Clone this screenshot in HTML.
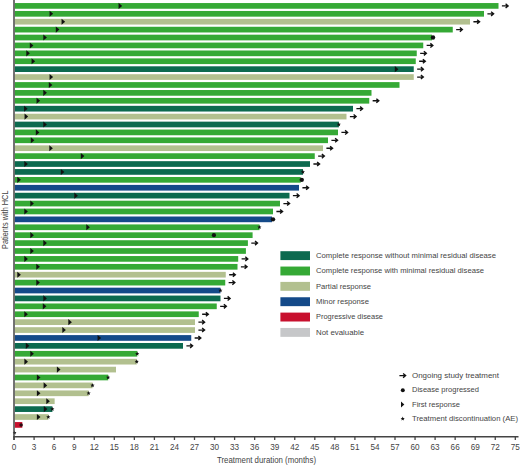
<!DOCTYPE html>
<html><head><meta charset="utf-8"><style>
html,body{margin:0;padding:0;background:#fff;}
body{width:520px;height:466px;overflow:hidden;position:relative;}
svg{position:absolute;left:0;top:0;}
text{font-family:"Liberation Sans",sans-serif;fill:#444;}
.tk{font-size:8.2px;}
.lg{font-size:8px;}
</style></head><body>
<svg width="520" height="466" viewBox="0 0 520 466">
<rect x="14.8" y="3.05" width="483.70" height="5.7" fill="#35a935"/>
<polygon points="118.55,2.85 122.15,5.90 118.55,8.95" fill="#111"/>
<path d="M501.90,5.90H507.90M505.60,3.85L508.10,5.90L505.60,7.95" fill="none" stroke="#111" stroke-width="1.35" stroke-linejoin="miter"/>
<rect x="14.8" y="10.96" width="469.20" height="5.7" fill="#35a935"/>
<polygon points="49.55,10.76 53.15,13.81 49.55,16.86" fill="#111"/>
<path d="M487.40,13.81H493.40M491.10,11.76L493.60,13.81L491.10,15.86" fill="none" stroke="#111" stroke-width="1.35" stroke-linejoin="miter"/>
<rect x="14.8" y="18.86" width="455.20" height="5.7" fill="#b2c08f"/>
<polygon points="61.55,18.66 65.15,21.71 61.55,24.76" fill="#111"/>
<path d="M473.40,21.71H479.40M477.10,19.66L479.60,21.71L477.10,23.76" fill="none" stroke="#111" stroke-width="1.35" stroke-linejoin="miter"/>
<rect x="14.8" y="26.77" width="437.95" height="5.7" fill="#35a935"/>
<polygon points="55.80,26.57 59.40,29.62 55.80,32.67" fill="#111"/>
<path d="M456.15,29.62H462.15M459.85,27.57L462.35,29.62L459.85,31.67" fill="none" stroke="#111" stroke-width="1.35" stroke-linejoin="miter"/>
<rect x="14.8" y="34.67" width="417.20" height="5.7" fill="#35a935"/>
<polygon points="43.30,34.47 46.90,37.52 43.30,40.57" fill="#111"/>
<circle cx="433.00" cy="37.52" r="2.2" fill="#111"/>
<rect x="14.8" y="42.58" width="408.45" height="5.7" fill="#35a935"/>
<polygon points="29.80,42.38 33.40,45.43 29.80,48.48" fill="#111"/>
<path d="M426.65,45.43H432.65M430.35,43.38L432.85,45.43L430.35,47.48" fill="none" stroke="#111" stroke-width="1.35" stroke-linejoin="miter"/>
<rect x="14.8" y="50.49" width="401.95" height="5.7" fill="#35a935"/>
<polygon points="26.30,50.29 29.90,53.34 26.30,56.39" fill="#111"/>
<path d="M420.15,53.34H426.15M423.85,51.29L426.35,53.34L423.85,55.39" fill="none" stroke="#111" stroke-width="1.35" stroke-linejoin="miter"/>
<rect x="14.8" y="58.39" width="400.95" height="5.7" fill="#35a935"/>
<polygon points="31.55,58.19 35.15,61.24 31.55,64.29" fill="#111"/>
<path d="M419.15,61.24H425.15M422.85,59.19L425.35,61.24L422.85,63.29" fill="none" stroke="#111" stroke-width="1.35" stroke-linejoin="miter"/>
<rect x="14.8" y="66.30" width="398.95" height="5.7" fill="#0c6a4f"/>
<polygon points="394.80,66.10 398.40,69.15 394.80,72.20" fill="#111"/>
<path d="M417.15,69.15H423.15M420.85,67.10L423.35,69.15L420.85,71.20" fill="none" stroke="#111" stroke-width="1.35" stroke-linejoin="miter"/>
<rect x="14.8" y="74.20" width="398.95" height="5.7" fill="#b2c08f"/>
<polygon points="49.55,74.00 53.15,77.05 49.55,80.10" fill="#111"/>
<path d="M417.15,77.05H423.15M420.85,75.00L423.35,77.05L420.85,79.10" fill="none" stroke="#111" stroke-width="1.35" stroke-linejoin="miter"/>
<rect x="14.8" y="82.11" width="384.70" height="5.7" fill="#35a935"/>
<polygon points="48.80,81.91 52.40,84.96 48.80,88.01" fill="#111"/>
<rect x="14.8" y="90.02" width="356.70" height="5.7" fill="#35a935"/>
<polygon points="43.30,89.82 46.90,92.87 43.30,95.92" fill="#111"/>
<rect x="14.8" y="97.92" width="354.45" height="5.7" fill="#35a935"/>
<polygon points="36.55,97.72 40.15,100.77 36.55,103.82" fill="#111"/>
<path d="M372.65,100.77H378.65M376.35,98.72L378.85,100.77L376.35,102.82" fill="none" stroke="#111" stroke-width="1.35" stroke-linejoin="miter"/>
<rect x="14.8" y="105.83" width="338.20" height="5.7" fill="#0c6a4f"/>
<polygon points="24.05,105.63 27.65,108.68 24.05,111.73" fill="#111"/>
<path d="M356.40,108.68H362.40M360.10,106.63L362.60,108.68L360.10,110.73" fill="none" stroke="#111" stroke-width="1.35" stroke-linejoin="miter"/>
<rect x="14.8" y="113.73" width="331.70" height="5.7" fill="#b2c08f"/>
<polygon points="24.55,113.53 28.15,116.58 24.55,119.63" fill="#111"/>
<path d="M349.90,116.58H355.90M353.60,114.53L356.10,116.58L353.60,118.63" fill="none" stroke="#111" stroke-width="1.35" stroke-linejoin="miter"/>
<rect x="14.8" y="121.64" width="324.10" height="5.7" fill="#0c6a4f"/>
<polygon points="43.30,121.44 46.90,124.49 43.30,127.54" fill="#111"/>
<polygon points="338.80,122.29 339.38,123.69 340.89,123.81 339.74,124.80 340.09,126.27 338.80,125.48 337.51,126.27 337.86,124.80 336.71,123.81 338.22,123.69" fill="#111"/>
<rect x="14.8" y="129.55" width="323.20" height="5.7" fill="#35a935"/>
<polygon points="35.80,129.35 39.40,132.40 35.80,135.45" fill="#111"/>
<path d="M341.40,132.40H347.40M345.10,130.35L347.60,132.40L345.10,134.45" fill="none" stroke="#111" stroke-width="1.35" stroke-linejoin="miter"/>
<rect x="14.8" y="137.45" width="313.20" height="5.7" fill="#35a935"/>
<polygon points="30.80,137.25 34.40,140.30 30.80,143.35" fill="#111"/>
<path d="M331.40,140.30H337.40M335.10,138.25L337.60,140.30L335.10,142.35" fill="none" stroke="#111" stroke-width="1.35" stroke-linejoin="miter"/>
<rect x="14.8" y="145.36" width="308.20" height="5.7" fill="#b2c08f"/>
<polygon points="49.30,145.16 52.90,148.21 49.30,151.26" fill="#111"/>
<path d="M326.40,148.21H332.40M330.10,146.16L332.60,148.21L330.10,150.26" fill="none" stroke="#111" stroke-width="1.35" stroke-linejoin="miter"/>
<rect x="14.8" y="153.26" width="299.95" height="5.7" fill="#35a935"/>
<polygon points="80.80,153.06 84.40,156.11 80.80,159.16" fill="#111"/>
<path d="M318.15,156.11H324.15M321.85,154.06L324.35,156.11L321.85,158.16" fill="none" stroke="#111" stroke-width="1.35" stroke-linejoin="miter"/>
<rect x="14.8" y="161.17" width="295.20" height="5.7" fill="#0c6a4f"/>
<polygon points="24.30,160.97 27.90,164.02 24.30,167.07" fill="#111"/>
<path d="M313.40,164.02H319.40M317.10,161.97L319.60,164.02L317.10,166.07" fill="none" stroke="#111" stroke-width="1.35" stroke-linejoin="miter"/>
<rect x="14.8" y="169.08" width="288.20" height="5.7" fill="#0c6a4f"/>
<polygon points="60.80,168.88 64.40,171.93 60.80,174.98" fill="#111"/>
<polygon points="302.90,169.73 303.48,171.13 304.99,171.25 303.84,172.23 304.19,173.71 302.90,172.92 301.61,173.71 301.96,172.23 300.81,171.25 302.32,171.13" fill="#111"/>
<rect x="14.8" y="176.98" width="285.95" height="5.7" fill="#35a935"/>
<polygon points="17.30,176.78 20.90,179.83 17.30,182.88" fill="#111"/>
<circle cx="301.75" cy="179.83" r="2.2" fill="#111"/>
<rect x="14.8" y="184.89" width="284.20" height="5.7" fill="#144a89"/>
<path d="M302.40,187.74H308.40M306.10,185.69L308.60,187.74L306.10,189.79" fill="none" stroke="#111" stroke-width="1.35" stroke-linejoin="miter"/>
<rect x="14.8" y="192.79" width="274.70" height="5.7" fill="#0c6a4f"/>
<polygon points="74.30,192.59 77.90,195.64 74.30,198.69" fill="#111"/>
<path d="M292.90,195.64H298.90M296.60,193.59L299.10,195.64L296.60,197.69" fill="none" stroke="#111" stroke-width="1.35" stroke-linejoin="miter"/>
<rect x="14.8" y="200.70" width="265.20" height="5.7" fill="#35a935"/>
<polygon points="30.30,200.50 33.90,203.55 30.30,206.60" fill="#111"/>
<path d="M283.40,203.55H289.40M287.10,201.50L289.60,203.55L287.10,205.60" fill="none" stroke="#111" stroke-width="1.35" stroke-linejoin="miter"/>
<rect x="14.8" y="208.61" width="258.20" height="5.7" fill="#35a935"/>
<polygon points="24.30,208.41 27.90,211.46 24.30,214.51" fill="#111"/>
<path d="M276.40,211.46H282.40M280.10,209.41L282.60,211.46L280.10,213.51" fill="none" stroke="#111" stroke-width="1.35" stroke-linejoin="miter"/>
<rect x="14.8" y="216.51" width="257.20" height="5.7" fill="#144a89"/>
<circle cx="273.00" cy="219.36" r="2.2" fill="#111"/>
<rect x="14.8" y="224.42" width="244.70" height="5.7" fill="#35a935"/>
<polygon points="86.30,224.22 89.90,227.27 86.30,230.32" fill="#111"/>
<polygon points="259.40,225.07 259.98,226.47 261.49,226.59 260.34,227.57 260.69,229.05 259.40,228.26 258.11,229.05 258.46,227.57 257.31,226.59 258.82,226.47" fill="#111"/>
<rect x="14.8" y="232.32" width="237.80" height="5.7" fill="#35a935"/>
<polygon points="30.30,232.12 33.90,235.17 30.30,238.22" fill="#111"/>
<rect x="14.8" y="240.23" width="233.10" height="5.7" fill="#35a935"/>
<polygon points="43.30,240.03 46.90,243.08 43.30,246.13" fill="#111"/>
<path d="M251.30,243.08H257.30M255.00,241.03L257.50,243.08L255.00,245.13" fill="none" stroke="#111" stroke-width="1.35" stroke-linejoin="miter"/>
<rect x="14.8" y="248.14" width="231.10" height="5.7" fill="#35a935"/>
<polygon points="30.30,247.94 33.90,250.99 30.30,254.04" fill="#111"/>
<rect x="14.8" y="256.04" width="223.40" height="5.7" fill="#35a935"/>
<polygon points="24.30,255.84 27.90,258.89 24.30,261.94" fill="#111"/>
<path d="M241.60,258.89H247.60M245.30,256.84L247.80,258.89L245.30,260.94" fill="none" stroke="#111" stroke-width="1.35" stroke-linejoin="miter"/>
<rect x="14.8" y="263.95" width="222.70" height="5.7" fill="#35a935"/>
<polygon points="36.30,263.75 39.90,266.80 36.30,269.85" fill="#111"/>
<path d="M240.90,266.80H246.90M244.60,264.75L247.10,266.80L244.60,268.85" fill="none" stroke="#111" stroke-width="1.35" stroke-linejoin="miter"/>
<rect x="14.8" y="271.85" width="210.95" height="5.7" fill="#b2c08f"/>
<polygon points="17.30,271.65 20.90,274.70 17.30,277.75" fill="#111"/>
<path d="M229.15,274.70H235.15M232.85,272.65L235.35,274.70L232.85,276.75" fill="none" stroke="#111" stroke-width="1.35" stroke-linejoin="miter"/>
<rect x="14.8" y="279.76" width="210.45" height="5.7" fill="#35a935"/>
<polygon points="36.30,279.56 39.90,282.61 36.30,285.66" fill="#111"/>
<path d="M228.65,282.61H234.65M232.35,280.56L234.85,282.61L232.35,284.66" fill="none" stroke="#111" stroke-width="1.35" stroke-linejoin="miter"/>
<rect x="14.8" y="287.67" width="205.70" height="5.7" fill="#144a89"/>
<polygon points="220.40,288.32 220.98,289.72 222.49,289.84 221.34,290.82 221.69,292.30 220.40,291.51 219.11,292.30 219.46,290.82 218.31,289.84 219.82,289.72" fill="#111"/>
<rect x="14.8" y="295.57" width="205.70" height="5.7" fill="#0c6a4f"/>
<polygon points="43.30,295.37 46.90,298.42 43.30,301.47" fill="#111"/>
<path d="M223.90,298.42H229.90M227.60,296.37L230.10,298.42L227.60,300.47" fill="none" stroke="#111" stroke-width="1.35" stroke-linejoin="miter"/>
<rect x="14.8" y="303.48" width="201.95" height="5.7" fill="#35a935"/>
<polygon points="42.80,303.28 46.40,306.33 42.80,309.38" fill="#111"/>
<path d="M220.15,306.33H226.15M223.85,304.28L226.35,306.33L223.85,308.38" fill="none" stroke="#111" stroke-width="1.35" stroke-linejoin="miter"/>
<rect x="14.8" y="311.38" width="183.95" height="5.7" fill="#35a935"/>
<polygon points="24.30,311.18 27.90,314.23 24.30,317.28" fill="#111"/>
<path d="M202.15,314.23H208.15M205.85,312.18L208.35,314.23L205.85,316.28" fill="none" stroke="#111" stroke-width="1.35" stroke-linejoin="miter"/>
<rect x="14.8" y="319.29" width="180.20" height="5.7" fill="#b2c08f"/>
<polygon points="68.30,319.09 71.90,322.14 68.30,325.19" fill="#111"/>
<path d="M198.40,322.14H204.40M202.10,320.09L204.60,322.14L202.10,324.19" fill="none" stroke="#111" stroke-width="1.35" stroke-linejoin="miter"/>
<rect x="14.8" y="327.20" width="180.20" height="5.7" fill="#b2c08f"/>
<polygon points="62.30,327.00 65.90,330.05 62.30,333.10" fill="#111"/>
<path d="M198.40,330.05H204.40M202.10,328.00L204.60,330.05L202.10,332.10" fill="none" stroke="#111" stroke-width="1.35" stroke-linejoin="miter"/>
<rect x="14.8" y="335.10" width="176.45" height="5.7" fill="#144a89"/>
<polygon points="97.55,334.90 101.15,337.95 97.55,341.00" fill="#111"/>
<path d="M194.65,337.95H200.65M198.35,335.90L200.85,337.95L198.35,340.00" fill="none" stroke="#111" stroke-width="1.35" stroke-linejoin="miter"/>
<rect x="14.8" y="343.01" width="168.20" height="5.7" fill="#0c6a4f"/>
<polygon points="25.80,342.81 29.40,345.86 25.80,348.91" fill="#111"/>
<path d="M186.40,345.86H192.40M190.10,343.81L192.60,345.86L190.10,347.91" fill="none" stroke="#111" stroke-width="1.35" stroke-linejoin="miter"/>
<rect x="14.8" y="350.91" width="122.50" height="5.7" fill="#35a935"/>
<polygon points="30.30,350.71 33.90,353.76 30.30,356.81" fill="#111"/>
<polygon points="137.20,351.56 137.78,352.96 139.29,353.08 138.14,354.07 138.49,355.54 137.20,354.75 135.91,355.54 136.26,354.07 135.11,353.08 136.62,352.96" fill="#111"/>
<rect x="14.8" y="358.82" width="122.00" height="5.7" fill="#b2c08f"/>
<polygon points="24.40,358.62 28.00,361.67 24.40,364.72" fill="#111"/>
<polygon points="136.70,359.47 137.28,360.87 138.79,360.99 137.64,361.98 137.99,363.45 136.70,362.66 135.41,363.45 135.76,361.98 134.61,360.99 136.12,360.87" fill="#111"/>
<rect x="14.8" y="366.73" width="101.20" height="5.7" fill="#b2c08f"/>
<polygon points="56.90,366.53 60.50,369.58 56.90,372.63" fill="#111"/>
<rect x="14.8" y="374.63" width="93.40" height="5.7" fill="#35a935"/>
<polygon points="36.90,374.43 40.50,377.48 36.90,380.53" fill="#111"/>
<polygon points="108.10,375.28 108.68,376.68 110.19,376.80 109.04,377.79 109.39,379.26 108.10,378.47 106.81,379.26 107.16,377.79 106.01,376.80 107.52,376.68" fill="#111"/>
<rect x="14.8" y="382.54" width="77.80" height="5.7" fill="#b2c08f"/>
<polygon points="43.60,382.34 47.20,385.39 43.60,388.44" fill="#111"/>
<polygon points="92.50,383.19 93.08,384.59 94.59,384.71 93.44,385.69 93.79,387.17 92.50,386.38 91.21,387.17 91.56,385.69 90.41,384.71 91.92,384.59" fill="#111"/>
<rect x="14.8" y="390.44" width="73.90" height="5.7" fill="#b2c08f"/>
<polygon points="36.90,390.24 40.50,393.29 36.90,396.34" fill="#111"/>
<polygon points="88.60,391.09 89.18,392.49 90.69,392.61 89.54,393.60 89.89,395.07 88.60,394.28 87.31,395.07 87.66,393.60 86.51,392.61 88.02,392.49" fill="#111"/>
<rect x="14.8" y="398.35" width="39.85" height="5.7" fill="#b2c08f"/>
<polygon points="46.30,398.15 49.90,401.20 46.30,404.25" fill="#111"/>
<rect x="14.8" y="406.26" width="37.60" height="5.7" fill="#0c6a4f"/>
<polygon points="43.80,406.06 47.40,409.11 43.80,412.16" fill="#111"/>
<polygon points="52.30,406.91 52.88,408.31 54.39,408.43 53.24,409.41 53.59,410.89 52.30,410.10 51.01,410.89 51.36,409.41 50.21,408.43 51.72,408.31" fill="#111"/>
<rect x="14.8" y="414.16" width="33.60" height="5.7" fill="#b2c08f"/>
<polygon points="36.90,413.96 40.50,417.01 36.90,420.06" fill="#111"/>
<polygon points="48.30,414.81 48.88,416.21 50.39,416.33 49.24,417.32 49.59,418.79 48.30,418.00 47.01,418.79 47.36,417.32 46.21,416.33 47.72,416.21" fill="#111"/>
<rect x="14.8" y="422.07" width="7.50" height="5.7" fill="#c8102e"/>
<circle cx="21.1" cy="424.92" r="1.75" fill="#2a0a10"/>
<circle cx="213.9" cy="235.17" r="2.1" fill="#111"/>
<polygon points="14.60,430.82 15.13,432.10 16.50,432.21 15.46,433.10 15.78,434.44 14.60,433.72 13.42,434.44 13.74,433.10 12.70,432.21 14.07,432.10" fill="#111"/>
<line x1="14" y1="0" x2="14" y2="440" stroke="#444" stroke-width="1.5"/>
<line x1="13.25" y1="436.8" x2="518.5" y2="436.8" stroke="#444" stroke-width="1.5"/>
<line x1="14.05" y1="436.8" x2="14.05" y2="440" stroke="#444" stroke-width="1.3"/>
<line x1="34.10" y1="436.8" x2="34.10" y2="440" stroke="#444" stroke-width="1.3"/>
<line x1="54.15" y1="436.8" x2="54.15" y2="440" stroke="#444" stroke-width="1.3"/>
<line x1="74.20" y1="436.8" x2="74.20" y2="440" stroke="#444" stroke-width="1.3"/>
<line x1="94.25" y1="436.8" x2="94.25" y2="440" stroke="#444" stroke-width="1.3"/>
<line x1="114.30" y1="436.8" x2="114.30" y2="440" stroke="#444" stroke-width="1.3"/>
<line x1="134.35" y1="436.8" x2="134.35" y2="440" stroke="#444" stroke-width="1.3"/>
<line x1="154.40" y1="436.8" x2="154.40" y2="440" stroke="#444" stroke-width="1.3"/>
<line x1="174.45" y1="436.8" x2="174.45" y2="440" stroke="#444" stroke-width="1.3"/>
<line x1="194.50" y1="436.8" x2="194.50" y2="440" stroke="#444" stroke-width="1.3"/>
<line x1="214.55" y1="436.8" x2="214.55" y2="440" stroke="#444" stroke-width="1.3"/>
<line x1="234.60" y1="436.8" x2="234.60" y2="440" stroke="#444" stroke-width="1.3"/>
<line x1="254.65" y1="436.8" x2="254.65" y2="440" stroke="#444" stroke-width="1.3"/>
<line x1="274.70" y1="436.8" x2="274.70" y2="440" stroke="#444" stroke-width="1.3"/>
<line x1="294.75" y1="436.8" x2="294.75" y2="440" stroke="#444" stroke-width="1.3"/>
<line x1="314.80" y1="436.8" x2="314.80" y2="440" stroke="#444" stroke-width="1.3"/>
<line x1="334.85" y1="436.8" x2="334.85" y2="440" stroke="#444" stroke-width="1.3"/>
<line x1="354.90" y1="436.8" x2="354.90" y2="440" stroke="#444" stroke-width="1.3"/>
<line x1="374.95" y1="436.8" x2="374.95" y2="440" stroke="#444" stroke-width="1.3"/>
<line x1="395.00" y1="436.8" x2="395.00" y2="440" stroke="#444" stroke-width="1.3"/>
<line x1="415.05" y1="436.8" x2="415.05" y2="440" stroke="#444" stroke-width="1.3"/>
<line x1="435.10" y1="436.8" x2="435.10" y2="440" stroke="#444" stroke-width="1.3"/>
<line x1="455.15" y1="436.8" x2="455.15" y2="440" stroke="#444" stroke-width="1.3"/>
<line x1="475.20" y1="436.8" x2="475.20" y2="440" stroke="#444" stroke-width="1.3"/>
<line x1="495.25" y1="436.8" x2="495.25" y2="440" stroke="#444" stroke-width="1.3"/>
<line x1="515.30" y1="436.8" x2="515.30" y2="440" stroke="#444" stroke-width="1.3"/>
<g class="tk"><text x="14.05" y="450.0" text-anchor="middle">0</text><text x="34.10" y="450.0" text-anchor="middle">3</text><text x="54.15" y="450.0" text-anchor="middle">6</text><text x="74.20" y="450.0" text-anchor="middle">9</text><text x="94.25" y="450.0" text-anchor="middle">12</text><text x="114.30" y="450.0" text-anchor="middle">15</text><text x="134.35" y="450.0" text-anchor="middle">18</text><text x="154.40" y="450.0" text-anchor="middle">21</text><text x="174.45" y="450.0" text-anchor="middle">24</text><text x="194.50" y="450.0" text-anchor="middle">27</text><text x="214.55" y="450.0" text-anchor="middle">30</text><text x="234.60" y="450.0" text-anchor="middle">33</text><text x="254.65" y="450.0" text-anchor="middle">36</text><text x="274.70" y="450.0" text-anchor="middle">39</text><text x="294.75" y="450.0" text-anchor="middle">42</text><text x="314.80" y="450.0" text-anchor="middle">45</text><text x="334.85" y="450.0" text-anchor="middle">48</text><text x="354.90" y="450.0" text-anchor="middle">51</text><text x="374.95" y="450.0" text-anchor="middle">54</text><text x="395.00" y="450.0" text-anchor="middle">57</text><text x="415.05" y="450.0" text-anchor="middle">60</text><text x="435.10" y="450.0" text-anchor="middle">63</text><text x="455.15" y="450.0" text-anchor="middle">66</text><text x="475.20" y="450.0" text-anchor="middle">69</text><text x="495.25" y="450.0" text-anchor="middle">72</text><text x="515.30" y="450.0" text-anchor="middle">75</text></g>
<rect x="280.4" y="251.20" width="29.6" height="8.9" fill="#0c6a4f"/><rect x="280.4" y="266.55" width="29.6" height="8.9" fill="#35a935"/><rect x="280.4" y="281.90" width="29.6" height="8.9" fill="#b2c08f"/><rect x="280.4" y="297.25" width="29.6" height="8.9" fill="#144a89"/><rect x="280.4" y="312.60" width="29.6" height="8.9" fill="#c8102e"/><rect x="280.4" y="327.95" width="29.6" height="8.9" fill="#c6c7c9"/>
<path d="M399.40,375.60H405.40M403.10,373.55L405.60,375.60L403.10,377.65" fill="none" stroke="#111" stroke-width="1.35" stroke-linejoin="miter"/><circle cx="402.8" cy="390.2" r="2.0" fill="#111"/><polygon points="401.0,401.6 404.3,404.5 401.0,407.4" fill="#111"/><polygon points="402.70,416.60 403.28,418.00 404.79,418.12 403.64,419.11 403.99,420.58 402.70,419.79 401.41,420.58 401.76,419.11 400.61,418.12 402.12,418.00" fill="#111"/><text x="316.0" y="257.8" style="font-size:8.1px" textLength="180" lengthAdjust="spacingAndGlyphs">Complete response without minimal residual disease</text><text x="316.0" y="273.1" style="font-size:8.1px" textLength="168" lengthAdjust="spacingAndGlyphs">Complete response with minimal residual disease</text><text x="316.0" y="288.5" style="font-size:8.1px" textLength="55" lengthAdjust="spacingAndGlyphs">Partial response</text><text x="316.0" y="303.9" style="font-size:8.1px" textLength="53" lengthAdjust="spacingAndGlyphs">Minor response</text><text x="316.0" y="319.3" style="font-size:8.1px" textLength="67" lengthAdjust="spacingAndGlyphs">Progressive disease</text><text x="316.0" y="334.7" style="font-size:8.1px" textLength="48" lengthAdjust="spacingAndGlyphs">Not evaluable</text><text x="412.0" y="377.9" style="font-size:8.1px" textLength="87" lengthAdjust="spacingAndGlyphs">Ongoing study treatment</text><text x="412.0" y="392.3" style="font-size:8.1px" textLength="67" lengthAdjust="spacingAndGlyphs">Disease progressed</text><text x="412.0" y="406.5" style="font-size:8.1px" textLength="48" lengthAdjust="spacingAndGlyphs">First response</text><text x="412.0" y="421.1" style="font-size:8.1px" textLength="106" lengthAdjust="spacingAndGlyphs">Treatment discontinuation (AE)</text><text x="217.0" y="462.8" style="font-size:9.0px" textLength="99" lengthAdjust="spacingAndGlyphs">Treatment duration (months)</text><text transform="translate(7.6,249.0) rotate(-90)" style="font-size:8.6px" textLength="58.5" lengthAdjust="spacingAndGlyphs">Patients with HCL</text>
</svg>
</body></html>
